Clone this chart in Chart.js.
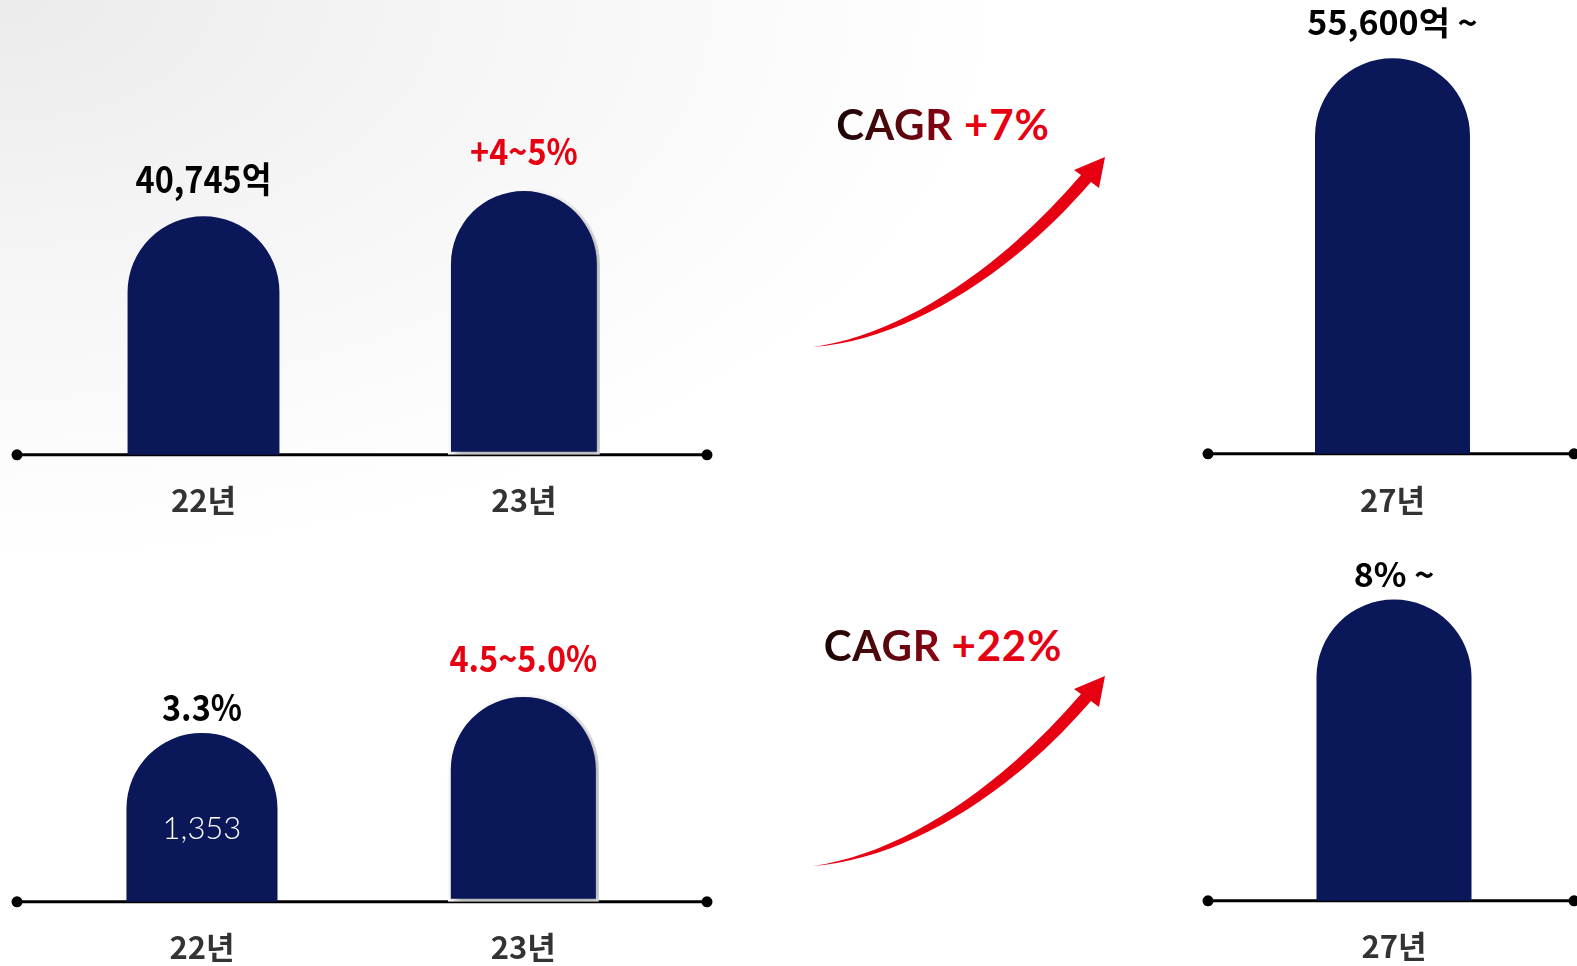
<!DOCTYPE html>
<html><head><meta charset="utf-8">
<script src="https://cdn.jsdelivr.net/npm/chart.js@4.4.1/dist/chart.umd.min.js"></script>
<style>
html,body{margin:0;padding:0;width:1577px;height:966px;overflow:hidden;background:#fff;}
#bg{position:absolute;left:0;top:0;width:1577px;height:966px;background:radial-gradient(ellipse 1000px 560px at 0 0,#ebebeb 0%,#f5f5f5 45%,#ffffff 100%);}
canvas{position:absolute;left:0;}
.cagr{position:absolute;width:400px;text-align:center;font-family:Lato,'Noto Sans',sans-serif;font-weight:700;font-size:42px;line-height:50px;white-space:nowrap;letter-spacing:0.8px;}
.cagr .g{background:linear-gradient(90deg,#160404 0%,#4e090b 45%,#8f0012 100%);-webkit-background-clip:text;background-clip:text;color:transparent;}
.cagr .r{color:#e60012;}
svg{position:absolute;left:0;top:0;}
</style></head><body>
<div id="bg"></div>
<svg width="1577" height="966" viewBox="0 0 1577 966">
  <defs>
    <path id="arrow" d="M 813 347 C 905 334, 1003 266, 1081 175 L 1074 170 L 1105 157 L 1099 188 L 1091 182 C 1010 276, 906 340, 813 347 Z"/>
  </defs>
  <use href="#arrow" fill="#e60012"/>
  <use href="#arrow" fill="#e60012" transform="translate(0,519)"/>
</svg>
<div class="cagr" id="cagr1" style="left:743px;top:99px;"></div>
<div class="cagr" id="cagr2" style="left:743px;top:620px;"></div>
<canvas id="c1" width="1577" height="546" style="top:0px"></canvas>
<canvas id="c2" width="1577" height="546" style="top:0px"></canvas>
<canvas id="c3" width="1577" height="433" style="top:560px"></canvas>
<canvas id="c4" width="1577" height="432" style="top:560px"></canvas>
<script>
// ---- data ----
const revenueCategories = ['22년', '23년'];
const revenueValues = [40745, 42578];           // 억원 (23년: +4~5%)
const revenueLabels = ['40,745억', '+4~5%'];
const revenueTargetCategories = ['27년'];
const revenueTargetValues = [55600];
const revenueTargetLabels = ['55,600억 ~'];
const marginCategories = ['22년', '23년'];
const marginValues = [3.3, 4.75];               // %
const marginLabels = ['3.3%', '4.5~5.0%'];
const marginInnerLabels = ['1,353', ''];
const marginTargetCategories = ['27년'];
const marginTargetValues = [8];
const marginTargetLabels = ['8% ~'];
const cagrLabel = 'CAGR';
const cagrValues = ['+7%', '+22%'];

// ---- CAGR text ----
[['cagr1', cagrValues[0]], ['cagr2', cagrValues[1]]].forEach(([id, v]) => {
  const d = document.getElementById(id);
  const g = document.createElement('span'); g.className = 'g'; g.textContent = cagrLabel;
  const r = document.createElement('span'); r.className = 'r'; r.textContent = ' ' + v;
  d.appendChild(g); d.appendChild(r);
});

const NAVY = '#0a1758';
const RED = '#e60012';
const NARROW = '"Liberation Sans Narrow", "Noto Sans CJK KR", sans-serif';
const GOTHIC = '"Noto Sans CJK KR", "Noto Sans", sans-serif';

const decor = {
  id: 'decor',
  beforeDatasetDraw(chart, args, opts) {
    const ctx = chart.ctx;
    const y = chart.chartArea.bottom;
    ctx.save();
    ctx.strokeStyle = '#000'; ctx.lineWidth = 3;
    ctx.beginPath(); ctx.moveTo(opts.x1, y); ctx.lineTo(opts.x2, y); ctx.stroke();
    ctx.fillStyle = '#000';
    [opts.x1, opts.x2].forEach(x => { ctx.beginPath(); ctx.arc(x, y, 5.5, 0, Math.PI * 2); ctx.fill(); });
    ctx.restore();
    args.meta.data.forEach((bar, i) => {
      ctx.save();
      if (opts.shadow && opts.shadow[i]) {
        ctx.shadowColor = 'rgba(0,0,0,0.35)'; ctx.shadowBlur = 8;
        ctx.shadowOffsetX = 4; ctx.shadowOffsetY = 4;
      }
      bar.draw(ctx, chart.chartArea);
      ctx.restore();
    });
    return false;
  },
  afterDatasetsDraw(chart, args, opts) {
    const ctx = chart.ctx;
    const meta = chart.getDatasetMeta(0);
    meta.data.forEach((bar, i) => {
      const t = opts.labels[i];
      if (t) {
        ctx.save();
        ctx.translate(bar.x, bar.y - opts.labelOffset[i]);
        ctx.scale(opts.labelScaleX || 1, 1);
        ctx.font = opts.labelFont; ctx.fillStyle = opts.labelColors[i];
        ctx.textAlign = 'center'; ctx.textBaseline = 'middle';
        ctx.fillText(t, 0, 0);
        ctx.restore();
      }
      if (opts.inner && opts.inner.texts[i]) {
        ctx.save();
        ctx.font = opts.inner.font; ctx.fillStyle = '#ffffff';
        ctx.textAlign = 'center'; ctx.textBaseline = 'middle';
        ctx.fillText(opts.inner.texts[i], bar.x, bar.base - opts.inner.offset);
        ctx.restore();
      }
    });
  }
};

function makeChart(id, c) {
  return new Chart(document.getElementById(id), {
    type: 'bar',
    data: {
      labels: c.labels,
      datasets: [{
        data: c.values,
        base: c.yMin,
        backgroundColor: NAVY,
        borderColor: '#ffffff',
        borderWidth: c.borderWidths,
        borderSkipped: false,
        borderRadius: { topLeft: 300, topRight: 300, bottomLeft: 0, bottomRight: 0 },
        barPercentage: c.barPct,
        categoryPercentage: 1
      }]
    },
    options: {
      responsive: false, animation: false, events: [],
      layout: { padding: { left: c.left, right: 1577 - c.right, top: 0, bottom: 0 } },
      plugins: {
        legend: { display: false }, tooltip: { enabled: false },
        decor: c.decor
      },
      scales: {
        x: {
          grid: { display: false, drawTicks: false }, border: { display: false },
          ticks: { font: c.tickFont, color: '#333333', padding: c.tickPad }
        },
        y: { display: false, min: c.yMin, max: c.yMax }
      }
    },
    plugins: [decor]
  });
}

makeChart('c1', {
  labels: revenueCategories, values: revenueValues, yMin: 25230, yMax: 54800,
  borderWidths: [0, 3], barPct: 0.474, left: 43.3, right: 684.1,
  tickFont: { family: NARROW, size: 31, weight: 'bold' }, tickPad: 27,
  decor: { x1: 17, x2: 707, shadow: [false, true], labels: revenueLabels, labelColors: ['#000', RED],
           labelFont: 'bold 36px ' + NARROW, labelOffset: [37, 37], labelScaleX: 0.9 }
});
makeChart('c2', {
  labels: revenueTargetCategories, values: revenueTargetValues, yMin: 0, yMax: 63800,
  borderWidths: [0], barPct: 0.42, left: 1208, right: 1577,
  tickFont: { family: GOTHIC, size: 31, weight: 'bold' }, tickPad: 27.5,
  decor: { x1: 1208, x2: 1574, shadow: [false], labels: revenueTargetLabels, labelColors: ['#000'],
           labelFont: 'bold 33px ' + GOTHIC, labelOffset: [36], labelScaleX: 1.03 }
});
makeChart('c3', {
  labels: marginCategories, values: marginValues, yMin: -2.98, yMax: 9.73,
  borderWidths: [0, 3], barPct: 0.47, left: 41.3, right: 684,
  tickFont: { family: NARROW, size: 31, weight: 'bold' }, tickPad: 27,
  decor: { x1: 17, x2: 707, shadow: [false, true], labels: marginLabels, labelColors: ['#000', RED],
           labelFont: 'bold 36px ' + NARROW, labelOffset: [26, 36], labelScaleX: 0.9,
           inner: { texts: marginInnerLabels, font: '300 31px Lato, "Open Sans", sans-serif', offset: 73 } }
});
makeChart('c4', {
  labels: marginTargetCategories, values: marginTargetValues, yMin: 0, yMax: 9.05,
  borderWidths: [0], barPct: 0.4235, left: 1211, right: 1577,
  tickFont: { family: GOTHIC, size: 31, weight: 'bold' }, tickPad: 27,
  decor: { x1: 1208, x2: 1574, shadow: [false], labels: marginTargetLabels, labelColors: ['#000'],
           labelFont: 'bold 33px ' + GOTHIC, labelOffset: [25], labelScaleX: 1.03 }
});
</script>
</body></html>
